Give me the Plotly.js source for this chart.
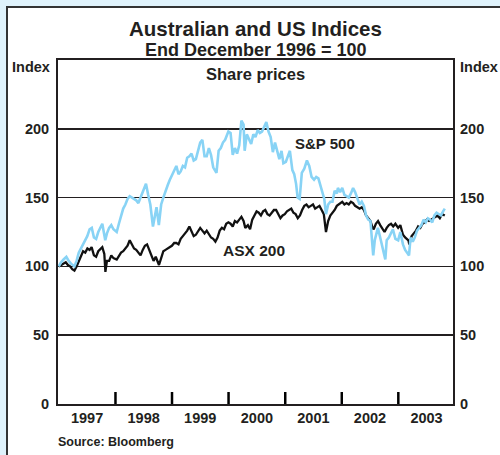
<!DOCTYPE html>
<html>
<head>
<meta charset="utf-8">
<script src="https://cdn.plot.ly/plotly-3.0.1.min.js"></script>
<style>
  html, body { margin: 0; padding: 0; background: #dff2fb; overflow: hidden; }
  #frame { position: absolute; left: 6px; top: 6px; width: 520px; height: 480px;
           background: #ffffff; border-left: 2px solid #333; border-top: 2px solid #333; }
  #chart { position: absolute; left: 0; top: 0; width: 500px; height: 455px; }
</style>
</head>
<body>
<div id="frame"></div>
<div id="chart"></div>
<script>
// S&P 500 (End December 1996 = 100)
const spDates = ["1996-12-31","1997-01-15","1997-01-31","1997-02-18","1997-03-05","1997-03-20","1997-04-11","1997-04-25","1997-05-09","1997-05-23","1997-06-06","1997-06-20","1997-07-03","1997-07-18","1997-08-01","1997-08-15","1997-08-29","1997-09-12","1997-09-26","1997-10-08","1997-10-27","1997-11-07","1997-11-21","1997-12-05","1997-12-19",
"1998-01-09","1998-01-23","1998-02-06","1998-02-20","1998-03-06","1998-03-20","1998-04-03","1998-04-17","1998-05-01","1998-05-15","1998-05-29","1998-06-12","1998-06-26","1998-07-10","1998-07-17","1998-07-31","1998-08-14","1998-08-31","1998-09-11","1998-09-23","1998-10-08","1998-10-23","1998-11-06","1998-11-20","1998-12-04","1998-12-18","1998-12-31",
"1999-01-15","1999-01-29","1999-02-12","1999-02-26","1999-03-12","1999-03-26","1999-04-09","1999-04-23","1999-05-07","1999-05-21","1999-06-04","1999-06-18","1999-07-02","1999-07-16","1999-07-30","1999-08-13","1999-08-27","1999-09-10","1999-09-24","1999-10-15","1999-10-29","1999-11-12","1999-11-26","1999-12-10","1999-12-31",
"2000-01-14","2000-01-28","2000-02-11","2000-02-25","2000-03-10","2000-03-24","2000-04-07","2000-04-14","2000-04-28","2000-05-12","2000-05-26","2000-06-09","2000-06-23","2000-07-07","2000-07-21","2000-08-04","2000-08-18","2000-09-01","2000-09-15","2000-09-29","2000-10-13","2000-10-27","2000-11-10","2000-11-24","2000-12-08","2000-12-20",
"2001-01-05","2001-01-19","2001-01-31","2001-02-16","2001-02-28","2001-03-12","2001-03-22","2001-04-04","2001-04-18","2001-05-04","2001-05-21","2001-06-05","2001-06-20","2001-07-06","2001-07-20","2001-08-03","2001-08-17","2001-08-31","2001-09-10","2001-09-21","2001-10-05","2001-10-19","2001-11-02","2001-11-16","2001-11-30","2001-12-07","2001-12-21",
"2002-01-04","2002-01-18","2002-02-01","2002-02-15","2002-03-01","2002-03-15","2002-03-28","2002-04-12","2002-04-26","2002-05-10","2002-05-24","2002-06-07","2002-06-21","2002-07-05","2002-07-23","2002-08-02","2002-08-22","2002-09-06","2002-09-20","2002-10-09","2002-10-18","2002-11-01","2002-11-27","2002-12-13","2002-12-31",
"2003-01-14","2003-01-31","2003-02-14","2003-03-11","2003-03-21","2003-04-04","2003-04-17","2003-05-02","2003-05-16","2003-05-30","2003-06-13","2003-06-27","2003-07-11","2003-07-25","2003-08-08","2003-08-22","2003-09-05","2003-09-19","2003-10-03","2003-10-17","2003-10-28"];
const spValues = [100,103,105,107,104,102,100,104,110,113,116,120,122,127,128,121,120,125,129,131,119,124,128,130,127,
125,131,137,142,145,149,151,150,149,148,146,150,153,157,160,152,145,129,136,143,130,145,150,155,159,163,166,
170,173,167,169,173,172,179,180,182,177,178,184,190,192,180,180,186,181,172,168,184,186,190,192,198,
197,181,186,182,188,206,203,184,196,192,189,196,194,199,197,198,202,205,198,194,183,190,184,178,184,175,
176,180,184,170,167,160,150,149,168,171,177,173,165,163,165,164,158,154,149,138,145,147,147,155,153,157,154,
157,152,151,150,153,157,154,150,145,147,144,137,134,133,108,119,128,121,114,105,119,121,127,120,119,
125,116,112,108,121,118,121,126,128,130,134,132,135,134,132,137,139,138,137,140,142];

// ASX 200 (End December 1996 = 100)
const asxDates = ["1996-12-31","1997-01-15","1997-01-31","1997-02-14","1997-02-28","1997-03-14","1997-03-28","1997-04-11","1997-04-25","1997-05-09","1997-05-23","1997-06-06","1997-06-20","1997-07-04","1997-07-18","1997-07-31","1997-08-15","1997-08-29","1997-09-12","1997-09-26","1997-10-08","1997-10-21","1997-10-28","1997-11-07","1997-11-21","1997-12-05","1997-12-19",
"1998-01-09","1998-01-23","1998-02-06","1998-02-20","1998-03-06","1998-03-20","1998-04-03","1998-04-17","1998-05-01","1998-05-15","1998-05-29","1998-06-12","1998-06-26","1998-07-10","1998-07-24","1998-08-07","1998-08-21","1998-09-04","1998-09-18","1998-10-02","1998-10-09","1998-10-23","1998-11-06","1998-11-20","1998-12-04","1998-12-18","1998-12-31",
"1999-01-15","1999-01-29","1999-02-12","1999-02-26","1999-03-12","1999-03-26","1999-04-09","1999-04-23","1999-05-07","1999-05-21","1999-06-04","1999-06-18","1999-07-02","1999-07-16","1999-07-30","1999-08-13","1999-08-27","1999-09-10","1999-09-24","1999-10-08","1999-10-22","1999-11-05","1999-11-19","1999-12-03","1999-12-17","1999-12-31",
"2000-01-14","2000-01-28","2000-02-11","2000-02-25","2000-03-10","2000-03-24","2000-04-07","2000-04-18","2000-05-05","2000-05-19","2000-06-02","2000-06-16","2000-06-30","2000-07-14","2000-07-28","2000-08-11","2000-08-25","2000-09-08","2000-09-22","2000-10-06","2000-10-20","2000-11-03","2000-11-17","2000-12-01","2000-12-15","2000-12-29",
"2001-01-12","2001-01-26","2001-02-09","2001-02-23","2001-03-09","2001-03-23","2001-04-06","2001-04-20","2001-05-04","2001-05-18","2001-06-01","2001-06-15","2001-06-29","2001-07-13","2001-07-27","2001-08-10","2001-08-24","2001-09-07","2001-09-21","2001-10-05","2001-10-19","2001-11-02","2001-11-16","2001-11-30","2001-12-14",
"2002-01-04","2002-01-18","2002-02-01","2002-02-15","2002-03-01","2002-03-15","2002-03-28","2002-04-12","2002-04-26","2002-05-10","2002-05-24","2002-06-07","2002-06-21","2002-07-05","2002-07-19","2002-07-26","2002-08-09","2002-08-23","2002-09-06","2002-09-20","2002-10-04","2002-10-18","2002-11-01","2002-11-15","2002-11-29","2002-12-13","2002-12-31",
"2003-01-14","2003-01-31","2003-02-14","2003-03-07","2003-03-13","2003-03-28","2003-04-11","2003-04-25","2003-05-09","2003-05-23","2003-06-06","2003-06-20","2003-07-04","2003-07-18","2003-08-01","2003-08-15","2003-08-29","2003-09-12","2003-09-26","2003-10-10","2003-10-28"];
const asxValues = [100,101,102,103,101,100,98,97,100,104,108,111,110,113,112,114,108,107,111,113,114,109,96,104,104,108,106,
105,108,110,111,113,115,119,116,113,112,110,108,112,115,116,112,108,104,107,103,101,106,111,112,113,114,115,
117,117,116,120,122,124,126,129,126,122,123,126,128,126,124,126,123,121,120,118,121,126,128,127,131,132,
131,129,133,132,134,136,133,128,130,127,134,137,140,139,137,140,141,138,137,139,141,141,138,135,137,138,
140,141,142,139,138,135,137,141,144,145,143,144,145,142,143,144,141,138,125,133,137,139,141,144,145,
147,145,146,145,147,146,144,143,142,143,141,137,135,133,128,127,131,133,130,127,125,128,130,131,129,131,128,
130,123,121,119,116,122,124,126,129,128,131,132,134,133,134,135,136,137,135,138,137];

const yTicks = [0, 50, 100, 150, 200];
const yearTickDates = ["1998-01-01","1999-01-01","2000-01-01","2001-01-01","2002-01-01","2003-01-01"];
const yearLabelDates = ["1997-07-02","1998-07-02","1999-07-02","2000-07-02","2001-07-02","2002-07-02","2003-07-02"];
const yearLabels = ["1997","1998","1999","2000","2001","2002","2003"];

const FONT = "Liberation Sans, Arial, Helvetica, sans-serif";
const INK = "#231f20";
const bold = (size) => ({ family: FONT, size: size, color: INK, weight: "bold" });

const traces = [
  { x: asxDates, y: asxValues, type: "scatter", mode: "lines", name: "ASX 200",
    line: { color: "#111111", width: 2.3 }, hoverinfo: "skip", yaxis: "y" },
  { x: spDates, y: spValues, type: "scatter", mode: "lines", name: "S&P 500",
    line: { color: "#88d3f5", width: 2.6 }, hoverinfo: "skip", yaxis: "y2" }
];

const yCommon = {
  range: [0, 250], tickmode: "array", tickvals: yTicks, ticks: "", fixedrange: true,
  tickfont: bold(14.5), zeroline: false
};

// year-boundary tick marks on the date axis, pointing up into the plot
const tickShapes = yearTickDates.map(d => ({
  type: "line", xref: "x", yref: "paper", x0: d, x1: d, y0: 0, y1: 12 / 344,
  line: { color: "#000000", width: 2.5 }, layer: "above"
}));

const layout = {
  width: 500, height: 455,
  margin: { l: 58, r: 47, t: 60, b: 51, pad: 0 },
  paper_bgcolor: "rgba(0,0,0,0)",
  plot_bgcolor: "#ffffff",
  showlegend: false,
  font: { family: FONT, color: INK },
  xaxis: {
    type: "date",
    range: ["1996-12-26", "2003-12-20"],
    tickmode: "array", tickvals: yearLabelDates, ticktext: yearLabels,
    ticks: "",
    showgrid: false, zeroline: false,
    showline: true, linecolor: INK, linewidth: 2, mirror: true,
    tickfont: bold(14.5),
    fixedrange: true
  },
  yaxis: Object.assign({}, yCommon, {
    showgrid: true, gridcolor: INK, gridwidth: 1.5,
    showline: true, linecolor: INK, linewidth: 2, mirror: true,
    side: "left", ticklabelstandoff: 4
  }),
  yaxis2: Object.assign({}, yCommon, {
    overlaying: "y", side: "right", showgrid: false, showline: false,
    ticklabelstandoff: 6
  }),
  shapes: tickShapes,
  annotations: [
    { text: "Australian and US Indices", xref: "paper", yref: "paper", x: 0.5, y: 1.093,
      xanchor: "center", yanchor: "middle", showarrow: false, font: bold(20.5) },
    { text: "End December 1996 = 100", xref: "paper", yref: "paper", x: 0.5, y: 1.03,
      xanchor: "center", yanchor: "middle", showarrow: false, font: bold(18) },
    { text: "Share prices", xref: "paper", yref: "paper", x: 0.5, y: 0.96,
      xanchor: "center", yanchor: "middle", showarrow: false, font: bold(16.5) },
    { text: "Index", xref: "paper", yref: "paper", x: -0.014, y: 0.98,
      xanchor: "right", yanchor: "middle", showarrow: false, font: bold(14.5) },
    { text: "Index", xref: "paper", yref: "paper", x: 1.0125, y: 0.98,
      xanchor: "left", yanchor: "middle", showarrow: false, font: bold(14.5) },
    { text: "S&amp;P 500", xref: "paper", yref: "paper", x: 0.677, y: 0.757,
      xanchor: "center", yanchor: "middle", showarrow: false, font: bold(15) },
    { text: "ASX 200", xref: "paper", yref: "paper", x: 0.497, y: 0.445,
      xanchor: "center", yanchor: "middle", showarrow: false, font: bold(15.5) },
    { text: "Source: Bloomberg", xref: "paper", yref: "paper", x: -0.005, y: -0.11,
      xanchor: "left", yanchor: "middle", showarrow: false, font: bold(12.5) }
  ]
};

Plotly.newPlot("chart", traces, layout, { staticPlot: true, displayModeBar: false });
</script>
</body>
</html>
